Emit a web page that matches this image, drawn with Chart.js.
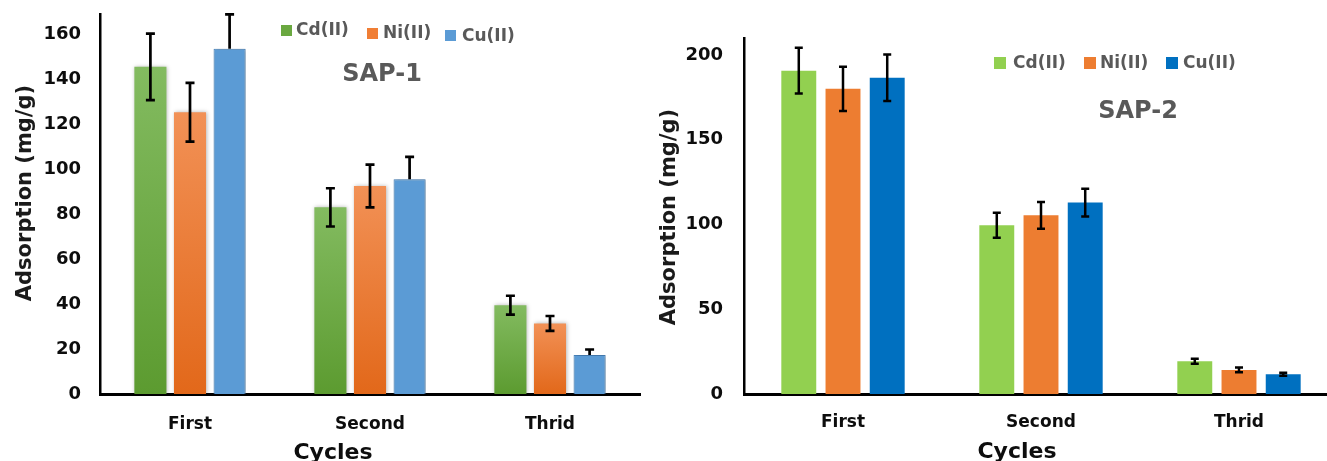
<!DOCTYPE html>
<html><head><meta charset="utf-8">
<script src="https://cdn.jsdelivr.net/npm/chart.js@4.4.0/dist/chart.umd.min.js"></script>
<style>
html,body{margin:0;padding:0;background:#fff;overflow:hidden;width:1327px;height:461px;}
#w1{position:absolute;left:0;top:0;width:650px;height:461px;}
#w2{position:absolute;left:640px;top:0;width:710px;height:461px;}
</style></head><body>
<div id="w1"><canvas id="c1"></canvas></div>
<div id="w2"><canvas id="c2"></canvas></div>
<script>
// ---- data ----
const categories = ['First', 'Second', 'Thrid'];
const seriesNames = ['Cd(II)', 'Ni(II)', 'Cu(II)'];
const xTitle = 'Cycles';
const yTitle = 'Adsorption (mg/g)';
const title1 = 'SAP-1';
const title2 = 'SAP-2';

// SAP-1
const sap1Cd = [145.5, 83, 39.5];
const sap1Ni = [125.3, 92.5, 31.4];
const sap1Cu = [153.5, 95.5, 17.3];
const sap1CdErr = [14.8, 8.5, 4.2];
const sap1NiErr = [13.1, 9.5, 3.3];
const sap1CuErrUp = [15.3, 10, 2.5];
const sap1CuErrDown = [0, 0, 0];
const yTicks1 = [0, 20, 40, 60, 80, 100, 120, 140, 160];
const yMax1 = 169;

// SAP-2
const sap2Cd = [190.7, 99.5, 19.3];
const sap2Ni = [180, 105.4, 14.2];
const sap2Cu = [186.6, 112.9, 11.7];
const sap2CdErr = [13.5, 7.4, 1.5];
const sap2NiErr = [13, 7.9, 1.4];
const sap2CuErr = [13.7, 8.2, 0.9];
const yTicks2 = [0, 50, 100, 150, 200];
const yMax2 = 210;

const FONT = 'DejaVu Sans';

// ---- plugins ----
const shadowPlugin = {
  id: 'barShadow',
  beforeDatasetsDraw(chart, args, opts) {
    if (!opts.on) return;
    const ctx = chart.ctx;
    ctx.save();
    ctx.shadowColor = 'rgba(0,0,0,0.28)';
    ctx.shadowBlur = 4;
    ctx.shadowOffsetX = 1;
    ctx.shadowOffsetY = 0;
  },
  afterDatasetsDraw(chart, args, opts) {
    if (!opts.on) return;
    chart.ctx.restore();
  }
};

const errorBars = {
  id: 'errorBars',
  afterDatasetsDraw(chart, args, opts) {
    const ctx = chart.ctx, ys = chart.scales.y;
    ctx.save();
    ctx.strokeStyle = '#000';
    ctx.lineWidth = opts.lineWidth || 2.5;
    const cap = opts.cap || 4.5;
    chart.data.datasets.forEach((ds, i) => {
      const meta = chart.getDatasetMeta(i);
      meta.data.forEach((bar, j) => {
        const v = ds.data[j], up = ds.errUp[j], dn = ds.errDown[j];
        const x = bar.x;
        const yt = ys.getPixelForValue(v + up);
        const yb = ys.getPixelForValue(v - dn);
        ctx.beginPath();
        ctx.moveTo(x, yt); ctx.lineTo(x, yb);
        ctx.moveTo(x - cap, yt); ctx.lineTo(x + cap, yt);
        if (dn > 0) { ctx.moveTo(x - cap, yb); ctx.lineTo(x + cap, yb); }
        ctx.stroke();
      });
    });
    ctx.restore();
  }
};

const textPlugin = {
  id: 'texts',
  afterDraw(chart, args, o) {
    const ctx = chart.ctx;
    ctx.save();
    // y-axis title
    ctx.fillStyle = '#1a1a1a';
    ctx.font = 'bold 21px "' + FONT + '"';
    ctx.textAlign = 'center';
    ctx.textBaseline = 'middle';
    ctx.save();
    ctx.translate(o.yTitle[0], o.yTitle[1]);
    ctx.rotate(-Math.PI / 2);
    ctx.fillText(yTitle, 0, 0);
    ctx.restore();
    // x-axis title
    ctx.font = 'bold 22px "' + FONT + '"';
    ctx.textBaseline = 'alphabetic';
    ctx.fillStyle = '#0d0d0d';
    ctx.fillText(xTitle, o.xTitle[0], o.xTitle[1]);
    // chart title
    ctx.font = 'bold 24px "' + FONT + '"';
    ctx.textBaseline = 'middle';
    ctx.fillStyle = '#595959';
    ctx.fillText(o.title, o.titlePos[0], o.titlePos[1]);
    // legend
    ctx.font = 'bold 17px "' + FONT + '"';
    ctx.textAlign = 'left';
    chart.data.datasets.forEach((ds, i) => {
      const it = o.legend[i];
      ctx.fillStyle = ds.legendColor;
      ctx.fillRect(it[0], it[1], it[2], it[2]);
      ctx.fillStyle = '#595959';
      ctx.fillText(ds.label, it[3], it[4]);
    });
    ctx.restore();
  }
};

function gradFill(top, bottom) {
  return (c) => {
    const ch = c.chart, a = ch.chartArea;
    if (!a || c.type !== 'data' || !ch.scales.y) return bottom;
    const yt = ch.scales.y.getPixelForValue(c.raw);
    if (!isFinite(yt)) return bottom;
    const g = ch.ctx.createLinearGradient(0, yt, 0, a.bottom);
    g.addColorStop(0, top);
    g.addColorStop(1, bottom);
    return g;
  };
}

function axes(ticks, yMax, yPad, xPad, yWidth) {
  return {
    x: {
      grid: { display: false, drawTicks: false },
      border: { display: true, color: '#000', width: 3 },
      ticks: { color: '#0d0d0d', font: { family: FONT, weight: 'bold', size: 17 }, padding: xPad },
      afterFit(s) { s.height = 67; s.paddingLeft = 0; s.paddingRight = 0; }
    },
    y: {
      min: 0, max: yMax,
      grid: { display: false, drawTicks: false },
      border: { display: true, color: '#000', width: 2.5 },
      ticks: { color: '#0d0d0d', font: { family: FONT, weight: 'bold', size: 18 }, padding: yPad },
      afterBuildTicks(s) { s.ticks = ticks.map(v => ({ value: v })); },
      afterFit(s) { s.width = yWidth; s.paddingTop = 0; s.paddingBottom = 0; }
    }
  };
}

// ---- SAP-1 ----
new Chart(document.getElementById('c1'), {
  type: 'bar',
  data: {
    labels: categories,
    datasets: [
      { label: seriesNames[0], data: sap1Cd, errUp: sap1CdErr, errDown: sap1CdErr,
        backgroundColor: gradFill('#83bb60', '#5c9b30'), legendColor: '#6aa840', borderWidth: 0 },
      { label: seriesNames[1], data: sap1Ni, errUp: sap1NiErr, errDown: sap1NiErr,
        backgroundColor: gradFill('#f29156', '#e2681a'), legendColor: '#f07e35', borderWidth: 0 },
      { label: seriesNames[2], data: sap1Cu, errUp: sap1CuErrUp, errDown: sap1CuErrDown,
        backgroundColor: '#5b9bd5', legendColor: '#5b9bd5', borderColor: '#4a86bf', borderWidth: 1 }
    ]
  },
  options: {
    responsive: true, maintainAspectRatio: false, animation: false,
    datasets: { bar: { categoryPercentage: 0.66, barPercentage: 0.81 } },
    layout: { padding: { left: 0, right: 10, top: 14, bottom: 0 } },
    plugins: {
      legend: { display: false }, tooltip: { enabled: false },
      barShadow: { on: true },
      errorBars: { lineWidth: 2.7, cap: 4.5 },
      texts: {
        yTitle: [26, 193], xTitle: [333, 459], title: title1, titlePos: [382, 75],
        legend: [[281, 25, 11, 296, 31], [367, 28, 11, 383, 34], [445, 30, 11, 462, 36.5]]
      }
    },
    scales: axes(yTicks1, yMax1, 19, 20, 100)
  },
  plugins: [shadowPlugin, errorBars, textPlugin]
});

// ---- SAP-2 ----
new Chart(document.getElementById('c2'), {
  type: 'bar',
  data: {
    labels: categories,
    datasets: [
      { label: seriesNames[0], data: sap2Cd, errUp: sap2CdErr, errDown: sap2CdErr,
        backgroundColor: '#92d050', legendColor: '#92d050', borderWidth: 0 },
      { label: seriesNames[1], data: sap2Ni, errUp: sap2NiErr, errDown: sap2NiErr,
        backgroundColor: '#ed7d31', legendColor: '#ed7d31', borderWidth: 0 },
      { label: seriesNames[2], data: sap2Cu, errUp: sap2CuErr, errDown: sap2CuErr,
        backgroundColor: '#0070c0', legendColor: '#0070c0', borderWidth: 0 }
    ]
  },
  options: {
    responsive: true, maintainAspectRatio: false, animation: false,
    datasets: { bar: { categoryPercentage: 0.67, barPercentage: 0.79 } },
    layout: { padding: { left: 0, right: 12, top: 38, bottom: 0 } },
    plugins: {
      legend: { display: false }, tooltip: { enabled: false },
      barShadow: { on: false },
      errorBars: { lineWidth: 2.5, cap: 4 },
      texts: {
        yTitle: [30, 217], xTitle: [377, 458], title: title2, titlePos: [498, 112],
        legend: [[354, 57, 12, 373, 63.5], [444, 57, 12, 460, 63.5], [526, 57, 12, 543, 63.5]]
      }
    },
    scales: axes(yTicks2, yMax2, 21, 18, 104)
  },
  plugins: [shadowPlugin, errorBars, textPlugin]
});
</script>
</body></html>
